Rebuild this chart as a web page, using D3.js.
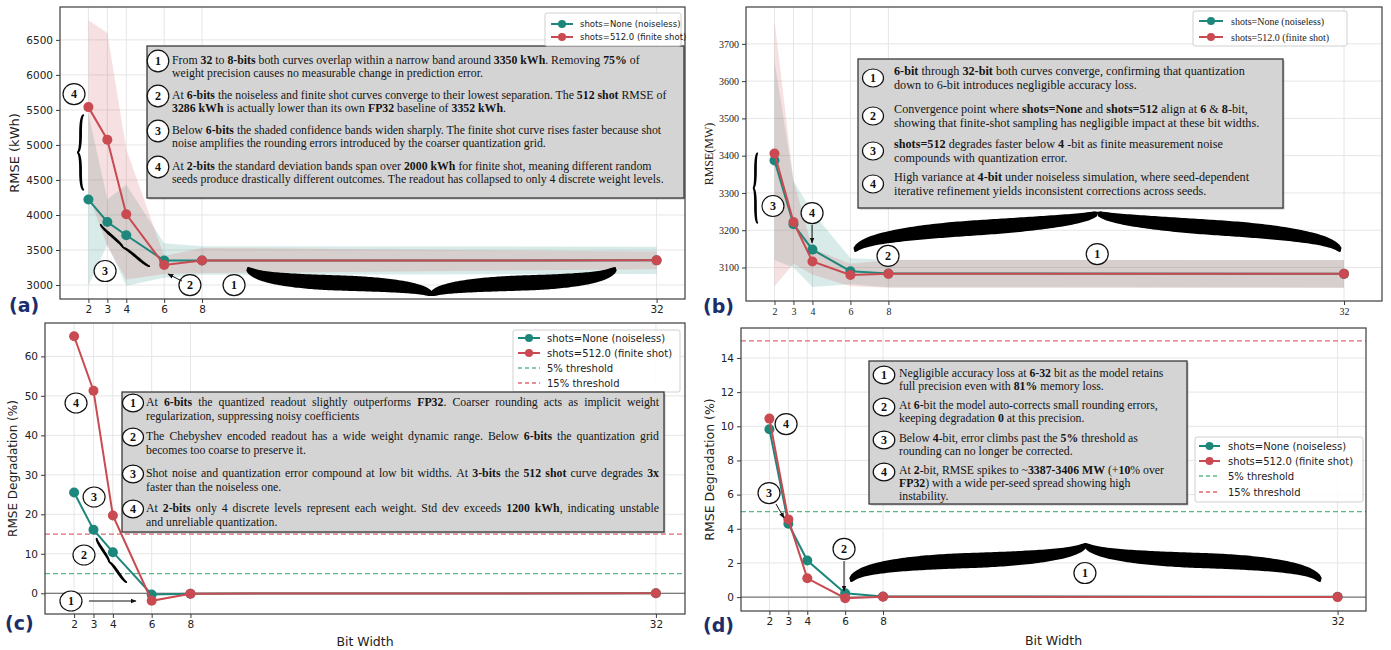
<!DOCTYPE html>
<html lang="en">
<head>
<meta charset="UTF-8">
<title>Quantization RMSE</title>
<script src="https://cdn.jsdelivr.net/npm/d3@7"></script>
<style>
    *{margin: 0;padding: 0}
    body{background: #fff}
    text{white-space: pre}
</style>
</head>
<body>
<svg id="chart" width="1391" height="650"></svg>

<script>
    // ---- data ----
    var bits = [2, 3, 4, 6, 8, 32];

    // (a) RMSE in kWh, mean and std over seeds
    var kwhNoiseless    = [4220, 3900, 3710, 3350, 3350, 3352];
    var kwhNoiselessStd = [1230,  320,  720,  245,  205,  195];
    var kwhShot         = [5540, 5075, 4010, 3286, 3350, 3352];
    var kwhShotStd      = [1240, 1525,  930,  130,  180,  125];

    // (b) RMSE in MW
    var mwNoiseless    = [3387, 3216, 3148, 3090, 3084, 3083];
    var mwNoiselessStd = [ 267,  116,  100,   35,   37,   37];
    var mwShot         = [3406, 3222, 3116, 3080, 3083, 3083];
    var mwShotStd      = [ 357,  112,   35,   30,   37,   37];

    // (c) RMSE degradation (%) for the kWh model
    var degKwhNoiseless = [25.5, 16.1, 10.4, -0.3, -0.1, 0.0];
    var degKwhShot      = [65.1, 51.3, 19.7, -1.9, -0.1, 0.0];

    // (d) RMSE degradation (%) for the MW model
    var degMwNoiseless = [9.83, 4.29, 2.14, 0.22, 0.04, 0.02];
    var degMwShot      = [10.45, 4.55, 1.10, -0.06, 0.02, 0.0];

    var thresholds = [5, 15];
    var seriesNames = ["shots=None (noiseless)", "shots=512.0 (finite shot)"];
    var thresholdNames = ["5% threshold", "15% threshold"];

    var yTicksA = [3000, 3500, 4000, 4500, 5000, 5500, 6000, 6500];
    var yTicksB = [3100, 3200, 3300, 3400, 3500, 3600, 3700];
    var yTicksC = [0, 10, 20, 30, 40, 50, 60];
    var yTicksD = [0, 2, 4, 6, 8, 10, 12, 14];

    var notesA = [
        ["From **32** to **8-bits** both curves overlap within a narrow band around **3350 kWh**. Removing **75%** of",
         "weight precision causes no measurable change in prediction error."],
        ["At **6-bits** the noiseless and finite shot curves converge to their lowest separation. The **512 shot** RMSE of",
         "**3286 kWh** is actually lower than its own **FP32** baseline of **3352 kWh**."],
        ["Below **6-bits** the shaded confidence bands widen sharply. The finite shot curve rises faster because shot",
         "noise amplifies the rounding errors introduced by the coarser quantization grid."],
        ["At **2-bits** the standard deviation bands span over **2000 kWh** for finite shot, meaning different random",
         "seeds produce drastically different outcomes. The readout has collapsed to only 4 discrete weight levels."]
    ];
    var notesB = [
        ["**6-bit** through **32-bit** both curves converge, confirming that quantization",
         "down to 6-bit introduces negligible accuracy loss."],
        ["Convergence point where **shots=None** and **shots=512** align at **6** & **8**-bit,",
         "showing that finite-shot sampling has negligible impact at these bit widths."],
        ["**shots=512** degrades faster below **4** -bit as finite measurement noise",
         "compounds with quantization error."],
        ["High variance at **4-bit** under noiseless simulation, where seed-dependent",
         "iterative refinement yields inconsistent corrections across seeds."]
    ];
    var notesC = [
        ["At **6-bits** the quantized readout slightly outperforms **FP32**. Coarser rounding acts as implicit weight",
         "regularization, suppressing noisy coefficients"],
        ["The Chebyshev encoded readout has a wide weight dynamic range. Below **6-bits** the quantization grid",
         "becomes too coarse to preserve it."],
        ["Shot noise and quantization error compound at low bit widths. At **3-bits** the **512 shot** curve degrades **3x**",
         "faster than the noiseless one."],
        ["At **2-bits** only 4 discrete levels represent each weight. Std dev exceeds **1200 kWh**, indicating unstable",
         "and unreliable quantization."]
    ];
    var notesD = [
        ["Negligible accuracy loss at **6-32** bit as the model retains",
         "full precision even with **81%** memory loss."],
        ["At **6-**bit the model auto-corrects small rounding errors,",
         "keeping degradation **0** at this precision."],
        ["Below **4**-bit, error climbs past the **5%** threshold as",
         "rounding can no longer be corrected."],
        ["At **2**-bit, RMSE spikes to ~**3387-3406 MW** (+**10**% over",
         "**FP32**) with a wide per-seed spread showing high",
         "instability."]
    ];

    // ---- style ----
    var TEAL = "#1d877c", RED = "#c94a50", GRID = "#e6e6e6", SPINE = "#3c3c3c";
    var GREEN_TH = "#5fb587", RED_TH = "#df6a71";
    var SANS = "'DejaVu Sans', sans-serif", SERIF = "'Liberation Serif', 'Times New Roman', serif";

    var svg = d3.select("#chart");
    svg.append("defs").append("marker")
        .attr("id", "arrow").attr("viewBox", "0 0 10 10")
        .attr("refX", 9).attr("refY", 5)
        .attr("markerWidth", 6).attr("markerHeight", 6)
        .attr("orient", "auto")
        .append("path").attr("d", "M0,1L10,5L0,9Z").attr("fill", "#111");

    function padded(lo, hi) {
        var r = hi - lo;
        return [lo - 0.05 * r, hi + 0.05 * r];
    }

    function bandExtent(m1, s1, m2, s2) {
        var lo = d3.min(m1.map(function (v, i) { return v - s1[i]; }).concat(m2.map(function (v, i) { return v - s2[i]; })));
        var hi = d3.max(m1.map(function (v, i) { return v + s1[i]; }).concat(m2.map(function (v, i) { return v + s2[i]; })));
        return padded(lo, hi);
    }

    /* split "a **b** c" into segments */
    function parseRich(str) {
        return str.split("**").map(function (p, i) { return {t: p, b: i % 2 === 1}; })
            .filter(function (s) { return s.t.length; });
    }

    function richLine(g, x, y, str, size, justifyTo) {
        var segs = parseRich(str);
        if (!justifyTo) {
            var t = g.append("text").attr("x", x).attr("y", y)
                .style("font-family", SERIF).style("font-size", size + "px").attr("fill", "#151515");
            segs.forEach(function (s) {
                t.append("tspan").text(s.t).style("font-weight", s.b ? "bold" : "normal");
            });
            return;
        }
        // justified line: words placed one by one
        var words = [[]];
        segs.forEach(function (s) {
            s.t.split(" ").forEach(function (p, k) {
                if (k > 0) words.push([]);
                if (p.length) words[words.length - 1].push({t: p, b: s.b});
            });
        });
        words = words.filter(function (w) { return w.length; });
        var nodes = words.map(function (w) {
            var t = g.append("text").attr("y", y)
                .style("font-family", SERIF).style("font-size", size + "px").attr("fill", "#151515");
            w.forEach(function (p) { t.append("tspan").text(p.t).style("font-weight", p.b ? "bold" : "normal"); });
            return t;
        });
        var widths = nodes.map(function (t) { return t.node().getComputedTextLength(); });
        var gap = (justifyTo - x - d3.sum(widths)) / (words.length - 1);
        var cx = x;
        nodes.forEach(function (t, i) { t.attr("x", cx); cx += widths[i] + gap; });
    }

    function numCircle(g, cx, cy, label, rx, ry) {
        g.append("ellipse").attr("cx", cx).attr("cy", cy).attr("rx", rx).attr("ry", ry)
            .attr("fill", "#fff").attr("stroke", "#111").attr("stroke-width", 1.2);
        g.append("text").attr("x", cx).attr("y", cy + 4.2).attr("text-anchor", "middle")
            .style("font-family", SERIF).style("font-weight", "bold").style("font-size", "12px")
            .attr("fill", "#111").text(label);
    }

    function noteBox(g, box, notes) {
        g.append("rect").attr("x", box.x0 + 1.5).attr("y", box.y0 + 1.5)
            .attr("width", box.x1 - box.x0).attr("height", box.y1 - box.y0)
            .attr("fill", "#777").attr("opacity", 0.45);
        g.append("rect").attr("x", box.x0).attr("y", box.y0)
            .attr("width", box.x1 - box.x0).attr("height", box.y1 - box.y0)
            .attr("fill", "#d4d4d4").attr("stroke", "#3a3a3a").attr("stroke-width", 1.3);
        notes.forEach(function (lines, i) {
            var c = box.first[i];
            lines.forEach(function (ln, k) {
                var last = k === lines.length - 1;
                richLine(g, box.tx, c + k * box.step + 4, ln, box.size, box.justify && !last ? box.justify : null);
            });
            numCircle(g, box.cx, c + box.cdy, i + 1, box.rx, box.ry);
        });
    }

    /* calligraphic curly brace between tips p1, p2; depth = offset of the middle point */
    function brace(g, p1, p2, depth, q, thick) {
        var ux = p2[0] - p1[0], uy = p2[1] - p1[1], L = Math.hypot(ux, uy);
        ux /= L; uy /= L;
        var nx = -uy, ny = ux;
        function pt(a, b) { return [p1[0] + ux * a + nx * b, p1[1] + uy * a + ny * b]; }
        var tip = pt(L / 2, depth);
        [[p1, pt(0, q * depth), pt(L / 4, (1 - q) * depth)],
         [p2, pt(L, q * depth), pt(3 * L / 4, (1 - q) * depth)]].forEach(function (h) {
            var tmp = g.append("path").attr("fill", "none")
                .attr("d", "M" + h[0] + "Q" + h[1] + " " + h[2] + "T" + tip);
            var node = tmp.node(), len = node.getTotalLength();
            var left = [], right = [], N = 90;
            for (var i = 0; i <= N; i++) {
                var s = i / N;
                var a = node.getPointAtLength(s * len);
                var b = node.getPointAtLength(Math.min(len, s * len + 0.5));
                var c = node.getPointAtLength(Math.max(0, s * len - 0.5));
                var tx = b.x - c.x, ty = b.y - c.y, tl = Math.hypot(tx, ty) || 1;
                var ox = -ty / tl, oy = tx / tl;
                var w = thick * Math.pow(Math.sin(Math.PI * s), 0.35) / 2 + 0.6;
                left.push([a.x + ox * w, a.y + oy * w]);
                right.push([a.x - ox * w, a.y - oy * w]);
            }
            tmp.remove();
            g.append("path").attr("fill", "#000")
                .attr("d", "M" + left.join("L") + "L" + right.reverse().join("L") + "Z");
        });
    }

    function arrow(g, p1, p2) {
        g.append("line").attr("x1", p1[0]).attr("y1", p1[1]).attr("x2", p2[0]).attr("y2", p2[1])
            .attr("stroke", "#111").attr("stroke-width", 1).attr("marker-end", "url(#arrow)");
    }

    function legend(g, L, items) {
        g.append("rect").attr("x", L.x0).attr("y", L.y0).attr("width", L.x1 - L.x0).attr("height", L.y1 - L.y0)
            .attr("rx", 2).attr("fill", "#fff").attr("fill-opacity", 0.85).attr("stroke", "#d0d0d0");
        items.forEach(function (it, i) {
            var y = L.rows[i];
            g.append("line").attr("x1", L.lx).attr("x2", L.lx + L.lw).attr("y1", y).attr("y2", y)
                .attr("stroke", it.color).attr("stroke-width", it.dash ? 1.3 : 2)
                .attr("stroke-dasharray", it.dash ? "4,3" : null);
            if (!it.dash) {
                g.append("circle").attr("cx", L.lx + L.lw / 2).attr("cy", y).attr("r", 4).attr("fill", it.color);
            }
            g.append("text").attr("x", L.tx).attr("y", y + L.size * 0.36)
                .style("font-family", L.font).style("font-size", L.size + "px").attr("fill", "#222").text(it.label);
        });
    }

    function drawPanel(cfg) {
        var g = svg.append("g");
        var x = d3.scaleLinear().domain(cfg.xDomain || [0.5, 33.5]).range([cfg.left, cfg.right]);
        var y = d3.scaleLinear().domain(cfg.yDomain).range([cfg.bottom, cfg.top]);
        var font = cfg.serif ? SERIF : SANS;

        g.append("g").selectAll("line").data(bits).enter().append("line")
            .attr("x1", x).attr("x2", x).attr("y1", cfg.top).attr("y2", cfg.bottom)
            .attr("stroke", GRID).attr("stroke-width", 1);
        g.append("g").selectAll("line").data(cfg.yTicks).enter().append("line")
            .attr("x1", cfg.left).attr("x2", cfg.right).attr("y1", y).attr("y2", y)
            .attr("stroke", GRID).attr("stroke-width", 1);

        var ax = g.append("g").attr("transform", "translate(0," + cfg.bottom + ")")
            .call(d3.axisBottom(x).tickValues(bits).tickSize(4).tickSizeOuter(0).tickFormat(d3.format("d")));
        var ay = g.append("g").attr("transform", "translate(" + cfg.left + ",0)")
            .call(d3.axisLeft(y).tickValues(cfg.yTicks).tickSize(4).tickSizeOuter(0).tickFormat(d3.format("d")));
        [ax, ay].forEach(function (a) {
            a.select(".domain").remove();
            a.selectAll("line").attr("stroke", SPINE);
            a.selectAll("text").style("font-family", font).style("font-size", cfg.tickSize + "px").attr("fill", "#222");
        });

        // axis titles
        g.append("text").attr("transform", "translate(" + cfg.ylabX + "," + (cfg.top + cfg.bottom) / 2 + ") rotate(-90)")
            .attr("text-anchor", "middle").style("font-family", font).style("font-size", cfg.ylabSize + "px")
            .attr("fill", "#222").text(cfg.ylabel);
        if (cfg.xlabel) {
            g.append("text").attr("x", (cfg.left + cfg.right) / 2).attr("y", cfg.xlabY)
                .attr("text-anchor", "middle").style("font-family", SANS).style("font-size", "12.5px")
                .attr("fill", "#222").text(cfg.xlabel);
        }
        g.append("text").attr("x", cfg.tagX).attr("y", cfg.tagY)
            .style("font-family", SANS).style("font-weight", "bold").style("font-size", "19px")
            .attr("fill", "#1b2d6b").text(cfg.tag);

        // shaded std bands
        cfg.series.forEach(function (s) {
            if (!s.std) return;
            var area = d3.area()
                .x(function (d, i) { return x(bits[i]); })
                .y0(function (d, i) { return y(d - s.std[i]); })
                .y1(function (d, i) { return y(d + s.std[i]); });
            g.append("path").datum(s.values).attr("d", area).attr("fill", s.color).attr("fill-opacity", 0.17);
        });

        if (cfg.zeroLine) {
            g.append("line").attr("x1", cfg.left).attr("x2", cfg.right).attr("y1", y(0)).attr("y2", y(0))
                .attr("stroke", "#4a4a4a").attr("stroke-width", 0.9);
        }
        if (cfg.thresholds) {
            g.append("g").selectAll("line").data(thresholds).enter().append("line")
                .attr("x1", cfg.left).attr("x2", cfg.right).attr("y1", y).attr("y2", y)
                .attr("stroke", function (d, i) { return i === 0 ? GREEN_TH : RED_TH; })
                .attr("stroke-width", 1.3).attr("stroke-dasharray", "5,3");
        }

        cfg.series.forEach(function (s) {
            var line = d3.line().x(function (d, i) { return x(bits[i]); }).y(function (d) { return y(d); });
            g.append("path").datum(s.values).attr("d", line).attr("fill", "none")
                .attr("stroke", s.color).attr("stroke-width", 2);
            g.append("g").selectAll("circle").data(s.values).enter().append("circle")
                .attr("cx", function (d, i) { return x(bits[i]); }).attr("cy", y).attr("r", 5)
                .attr("fill", s.color);
        });

        // frame
        g.append("rect").attr("x", cfg.left).attr("y", cfg.top)
            .attr("width", cfg.right - cfg.left).attr("height", cfg.bottom - cfg.top)
            .attr("fill", "none").attr("stroke", SPINE).attr("stroke-width", 1.2);

        return {g: g, x: x, y: y, P: function (b, v) { return [x(b), y(v)]; }};
    }

    // ---- (a) ----
    var A = drawPanel({
        left: 60, right: 685, top: 7, bottom: 299,
        yDomain: bandExtent(kwhNoiseless, kwhNoiselessStd, kwhShot, kwhShotStd), yTicks: yTicksA,
        tickSize: 10.5, ylabel: "RMSE (kWh)", ylabX: 19, ylabSize: 13,
        tag: "(a)", tagX: 9, tagY: 312,
        series: [{values: kwhNoiseless, std: kwhNoiselessStd, color: TEAL},
                 {values: kwhShot, std: kwhShotStd, color: RED}]
    });
    numCircle(A.g, A.x(1.24), A.y(5727), 4, 11, 10.5);
    brace(A.g, A.P(1.77, 5428), A.P(1.77, 4357), 7, 0.5, 1.6);
    numCircle(A.g, A.x(2.88), A.y(3200), 3, 11, 10.5);
    brace(A.g, A.P(2.66, 3871), A.P(5.25, 3272), 4, 0.5, 1.6);
    numCircle(A.g, A.x(7.36), A.y(3000), 2, 11, 10.5);
    arrow(A.g, A.P(6.94, 3057), A.P(6.2, 3157));
    numCircle(A.g, A.x(9.69), A.y(3000), 1, 11, 10.5);
    brace(A.g, A.P(10.43, 3257), A.P(29.8, 3257), 29, 0.45, 14);
    noteBox(A.g, {x0: 147, x1: 684, y0: 46, y1: 198, cx: 158, rx: 10.8, ry: 10.8, cdy: 1,
        tx: 172, first: [60, 95, 130, 166], step: 13, size: 11.8}, notesA);
    legend(A.g, {x0: 545, x1: 681, y0: 13, y1: 46, rows: [24, 37], lx: 551, lw: 22, tx: 580, size: 8.5, font: SANS},
        [{label: seriesNames[0], color: TEAL}, {label: seriesNames[1], color: RED}]);

    // ---- (b) ----
    var B = drawPanel({
        left: 746, right: 1382, top: 7, bottom: 301, serif: true, xDomain: [0.5, 34],
        yDomain: bandExtent(mwNoiseless, mwNoiselessStd, mwShot, mwShotStd), yTicks: yTicksB,
        tickSize: 10, ylabel: "RMSE(MW)", ylabX: 713, ylabSize: 12,
        tag: "(b)", tagX: 703, tagY: 313,
        series: [{values: mwNoiseless, std: mwNoiselessStd, color: TEAL},
                 {values: mwShot, std: mwShotStd, color: RED}]
    });
    brace(B.g, B.P(1.13, 3407), B.P(1.13, 3219), 5, 0.5, 1.5);
    numCircle(B.g, B.x(1.92), B.y(3265), 3, 11, 10.5);
    numCircle(B.g, B.x(3.98), B.y(3246), 4, 11, 10.5);
    arrow(B.g, B.P(3.98, 3214), B.P(3.98, 3166));
    brace(B.g, B.P(6.24, 3142), B.P(31.79, 3142), -40, 0.4, 14);
    numCircle(B.g, B.x(7.98), B.y(3131), 2, 11, 10.5);
    numCircle(B.g, B.x(19.0), B.y(3136), 1, 11, 10.5);
    noteBox(B.g, {x0: 858, x1: 1283, y0: 59, y1: 208, cx: 873, rx: 10.5, ry: 9, cdy: 7,
        tx: 894, first: [71, 109, 144, 177], step: 14, size: 12.2}, notesB);
    legend(B.g, {x0: 1193, x1: 1347, y0: 11, y1: 46, rows: [21, 37], lx: 1199, lw: 24, tx: 1231, size: 10, font: SERIF},
        [{label: seriesNames[0], color: TEAL}, {label: seriesNames[1], color: RED}]);

    // ---- (c) ----
    var C = drawPanel({
        left: 45, right: 685, top: 323, bottom: 614,
        yDomain: padded(d3.min(degKwhShot.concat(degKwhNoiseless)), d3.max(degKwhShot.concat(degKwhNoiseless, thresholds))),
        yTicks: yTicksC, tickSize: 10.5, ylabel: "RMSE Degradation (%)", ylabX: 17, ylabSize: 12,
        xlabel: "Bit Width", xlabY: 646, tag: "(c)", tagX: 5, tagY: 630,
        zeroLine: true, thresholds: true,
        series: [{values: degKwhNoiseless, color: TEAL}, {values: degKwhShot, color: RED}]
    });
    numCircle(C.g, C.x(2.10), C.y(48.19), 4, 11, 10);
    numCircle(C.g, C.x(3.03), C.y(24.38), 3, 11, 10);
    numCircle(C.g, C.x(2.51), C.y(9.69), 2, 11, 10);
    brace(C.g, C.P(3.18, 14.0), C.P(4.73, 2.85), 4, 0.5, 1.6);
    numCircle(C.g, C.x(1.84), C.y(-1.96), 1, 11, 10);
    arrow(C.g, C.P(2.77, -1.96), C.P(5.19, -1.96));
    legend(C.g, {x0: 513, x1: 680, y0: 330, y1: 392, rows: [338, 353, 368, 383], lx: 518, lw: 22, tx: 547, size: 10, font: SANS},
        [{label: seriesNames[0], color: TEAL}, {label: seriesNames[1], color: RED},
         {label: thresholdNames[0], color: GREEN_TH, dash: true}, {label: thresholdNames[1], color: RED_TH, dash: true}]);
    noteBox(C.g, {x0: 122, x1: 664, y0: 392, y1: 532, cx: 133, rx: 10.5, ry: 8.8, cdy: 1,
        tx: 146, first: [402, 436, 473, 508], step: 14, size: 11.8, justify: 659}, notesC);

    // ---- (d) ----
    var D = drawPanel({
        left: 741, right: 1366, top: 328, bottom: 611,
        yDomain: padded(d3.min(degMwShot.concat(degMwNoiseless)), d3.max(degMwShot.concat(degMwNoiseless, thresholds))),
        yTicks: yTicksD, tickSize: 10.5, ylabel: "RMSE Degradation (%)", ylabX: 714, ylabSize: 12.5,
        xlabel: "Bit Width", xlabY: 645, tag: "(d)", tagX: 703, tagY: 632,
        zeroLine: true, thresholds: true,
        series: [{values: degMwNoiseless, color: TEAL}, {values: degMwShot, color: RED}]
    });
    numCircle(D.g, D.x(2.88), D.y(10.13), 4, 11, 10.5);
    numCircle(D.g, D.x(1.98), D.y(6.09), 3, 11, 10.5);
    arrow(D.g, D.P(2.35, 5.45), D.P(2.77, 4.63));
    numCircle(D.g, D.x(5.94), D.y(2.82), 2, 11, 10.5);
    arrow(D.g, D.P(5.94, 2.11), D.P(5.94, 0.36));
    brace(D.g, D.P(6.31, 0.884), D.P(31.07, 0.884), -39, 0.45, 14);
    numCircle(D.g, D.x(18.66), D.y(1.41), 1, 11, 10.5);
    noteBox(D.g, {x0: 869, x1: 1187, y0: 361, y1: 504, cx: 884, rx: 10.8, ry: 8.8, cdy: 2,
        tx: 899, first: [373, 405, 438, 470], step: 13, size: 11.8}, notesD);
    legend(D.g, {x0: 1195, x1: 1363, y0: 437, y1: 502, rows: [446, 461, 476, 492], lx: 1199, lw: 21, tx: 1228, size: 10, font: SANS},
        [{label: seriesNames[0], color: TEAL}, {label: seriesNames[1], color: RED},
         {label: thresholdNames[0], color: GREEN_TH, dash: true}, {label: thresholdNames[1], color: RED_TH, dash: true}]);
</script>
</body>
</html>
